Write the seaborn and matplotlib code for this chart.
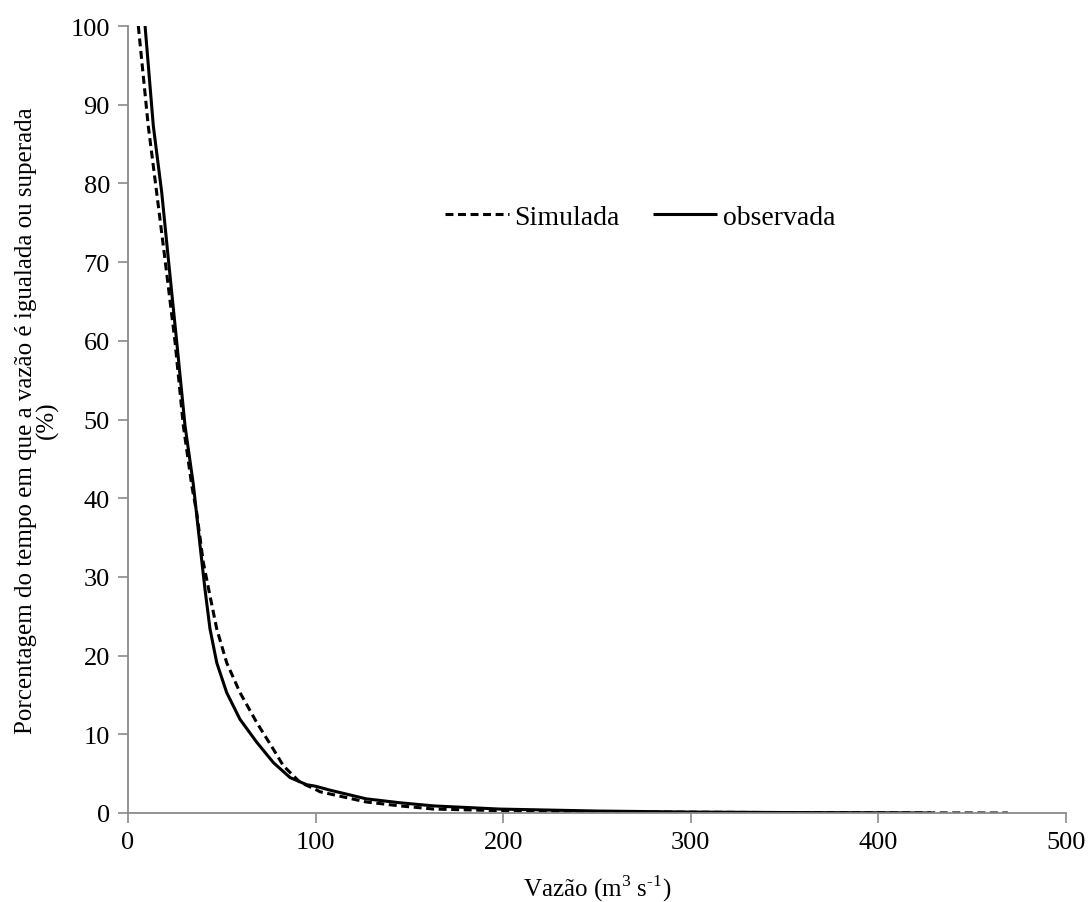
import matplotlib
matplotlib.use("Agg")
import matplotlib.pyplot as plt
import seaborn as sns
import pandas as pd

obs_x = [9.1, 11.0, 13.5, 18.0, 21.5, 26.0, 30.4, 34.8, 38.4, 41.0, 43.7, 47.3, 52.6, 59.7,
         68.6, 77.5, 86.4, 95.2, 100, 107.7, 127, 145, 163, 198, 250, 300, 350, 400, 428]
obs_y = [100, 94.5, 87.3, 78.8, 70.4, 59.8, 49.2, 41.8, 34.0, 28.5, 23.4, 19.1, 15.3, 11.9,
         9.0, 6.4, 4.5, 3.6, 3.4, 2.9, 1.8, 1.3, 0.9, 0.5, 0.25, 0.12, 0.06, 0.03, 0]
sim_x = [5.5, 8.0, 10.8, 15.3, 19.7, 25.1, 29.5, 34.0, 36.6, 40.1, 43.7, 47.3, 52.6, 59.7,
         68.6, 77.5, 82.8, 91.7, 100, 102.3, 127, 145, 163, 198, 250, 300, 350, 400, 469]
sim_y = [100, 94, 87.3, 78.8, 70.4, 59.8, 49.2, 41.6, 38.2, 31.9, 27.6, 23.4, 19.1, 15.3,
         11.5, 8.1, 6.0, 3.9, 3.0, 2.7, 1.4, 0.9, 0.5, 0.3, 0.15, 0.1, 0.05, 0.02, 0]

xticks = [0, 100, 200, 300, 400, 500]
yticks = [0, 10, 20, 30, 40, 50, 60, 70, 80, 90, 100]

sns.set_style("white")
plt.rcParams['font.family'] = ['Liberation Serif', 'DejaVu Serif']
plt.rcParams['mathtext.fontset'] = 'custom'
plt.rcParams['mathtext.rm'] = 'Liberation Serif'
plt.rcParams['lines.solid_capstyle'] = 'butt'
plt.rcParams['text.color'] = 'black'
plt.rcParams['axes.labelcolor'] = 'black'
plt.rcParams['xtick.labelcolor'] = 'black'
plt.rcParams['ytick.labelcolor'] = 'black'

fig = plt.figure(figsize=(10.9, 9.03), dpi=100)
ax = fig.add_axes([128/1090, 1-814/903, (1066-128)/1090, (814-27)/903])

sim = pd.DataFrame({"x": sim_x, "y": sim_y})
obs = pd.DataFrame({"x": obs_x, "y": obs_y})
sns.lineplot(data=sim, x="x", y="y", ax=ax, color="black", lw=2.2, sort=False,
             estimator=None, label="Simulada")
ax.lines[-1].set_dashes([2.6, 1.5])
sns.lineplot(data=obs, x="x", y="y", ax=ax, color="black", lw=2.2, sort=False,
             estimator=None, label="observada")

ax.set_xlim(0, 500)
ax.set_ylim(0, 100)
ax.set_xticks(xticks)
ax.set_yticks(yticks)
for s in ["top", "right"]:
    ax.spines[s].set_visible(False)
for s in ["left", "bottom"]:
    ax.spines[s].set_color("#8a8a8a")
    ax.spines[s].set_linewidth(1.3)
ax.tick_params(axis="both", direction="out", length=7, width=1.2, color="#8a8a8a",
               labelsize=19, labelcolor="black")
ax.tick_params(axis="x", bottom=True, pad=6)
ax.tick_params(axis="y", left=True, pad=6)

ax.set_xlabel(r"Vazão (m$^3$ s$^{\text{-}1}$)", fontsize=18, labelpad=14)
ax.set_ylabel("Porcentagem do tempo em que a vazão é igualada ou superada\n(%)",
              fontsize=18, labelpad=8, linespacing=0.95)

leg = ax.legend(loc="center", bbox_to_anchor=(0.546, 0.757), ncol=2, frameon=False,
                fontsize=20, handlelength=2.3, handletextpad=0.2, columnspacing=1.2)

fig.savefig("out.png", dpi=100)
